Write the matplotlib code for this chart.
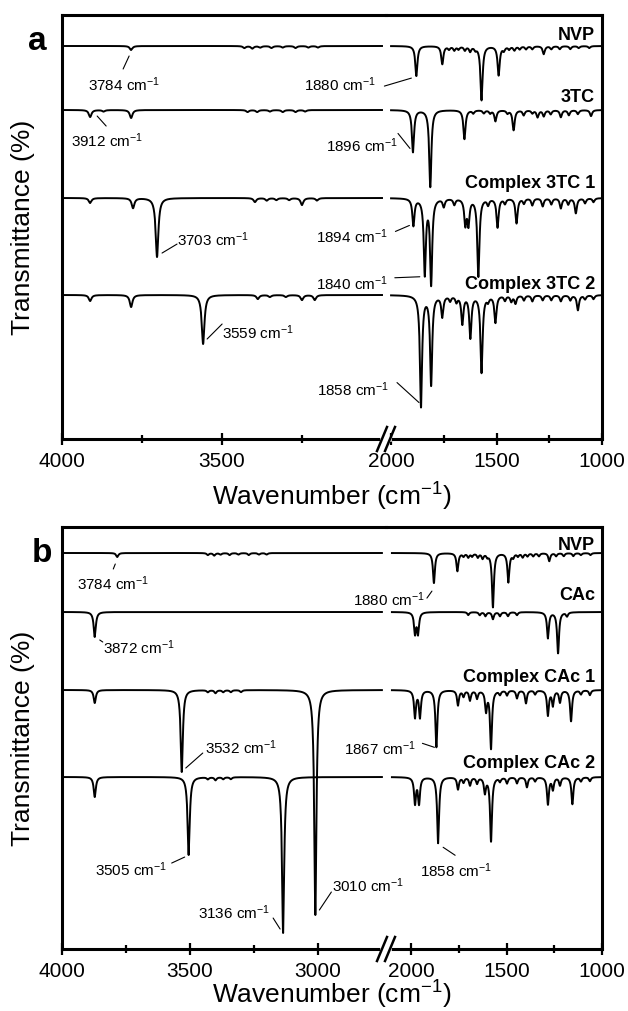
import numpy as np
import matplotlib
matplotlib.use('Agg')
import matplotlib.pyplot as plt
from matplotlib.lines import Line2D
from matplotlib.transforms import offset_copy

plt.rcParams['font.family'] = ['Liberation Sans', 'DejaVu Sans']
plt.rcParams['mathtext.fontset'] = 'custom'
plt.rcParams['mathtext.rm'] = 'Liberation Sans'
plt.rcParams['mathtext.it'] = 'Liberation Sans:italic'
plt.rcParams['mathtext.bf'] = 'Liberation Sans:bold'

# peak lists (wavenumber cm-1, depth)
nvp_peaks = [(3784, 4), (3430, 2), (3405, 2.5), (3380, 1.5), (3345, 2), (3310, 1.5),
             (3270, 2), (3230, 1.5), (3200, 1.5),
             (1880, 30), (1757, 18), (1725, 3), (1700, 4), (1680, 3), (1650, 4), (1625, 5),
             (1600, 3), (1571, 54), (1490, 29), (1465, 4), (1440, 3), (1415, 4), (1390, 3),
             (1360, 3), (1330, 3), (1276, 8), (1240, 3), (1200, 3), (1150, 3), (1110, 2), (1060, 2)]
tc3_peaks = [(3912, 7), (3870, 1.5), (3784, 8), (3420, 2), (3390, 2), (3350, 1.5), (3310, 2),
             (3270, 2), (3240, 1.5),
             (1896, 42), (1814, 77), (1652, 29), (1610, 3), (1560, 3), (1530, 3), (1505, 11),
             (1448, 3), (1419, 20), (1371, 5), (1330, 3), (1305, 7), (1276, 6), (1243, 4),
             (1195, 7), (1157, 5), (1114, 4), (1052, 6)]
ctc1_peaks = [(3912, 5), (3778, 10), (3703, 59), (3397, 4), (3360, 2.5), (3330, 2), (3290, 2),
              (3250, 7), (3203, 2.5),
              (1894, 27), (1840, 75), (1810, 85), (1750, 8), (1700, 6), (1648, 25), (1633, 25),
              (1586, 78), (1540, 6), (1495, 29), (1460, 5), (1405, 25), (1370, 5), (1330, 7),
              (1281, 8), (1240, 6), (1195, 10), (1160, 6), (1124, 15), (1080, 5), (1040, 4)]
ctc2_peaks = [(3912, 6), (3784, 12), (3559, 49), (3388, 4), (3350, 2), (3300, 2), (3250, 5),
              (3210, 5),
              (1858, 111), (1810, 89), (1757, 21), (1720, 5), (1690, 6), (1662, 28), (1624, 42),
              (1571, 77), (1540, 5), (1505, 27), (1460, 5), (1430, 6), (1410, 8), (1370, 5),
              (1330, 6), (1281, 5), (1240, 5), (1195, 6), (1150, 5), (1114, 15), (1080, 4), (1040, 4)]
cac_peaks = [(3872, 25),
             (1979, 21), (1963, 21), (1700, 3), (1640, 3), (1610, 4), (1571, 7), (1534, 4),
             (1492, 4), (1445, 3), (1283, 26), (1230, 41), (1183, 4)]
cc1_peaks = [(3872, 13), (3532, 82), (3430, 2), (3400, 3), (3370, 2), (3340, 2), (3300, 2),
             (3010, 225),
             (1979, 27), (1953, 27), (1867, 57), (1754, 15), (1725, 6), (1691, 10), (1654, 8),
             (1607, 20), (1581, 58), (1534, 4), (1497, 5), (1445, 8), (1398, 13), (1350, 4),
             (1283, 25), (1257, 15), (1220, 12), (1162, 31), (1110, 4), (1063, 5)]
cc2_peaks = [(3872, 20), (3505, 78), (3430, 2), (3400, 3), (3370, 2), (3340, 2), (3136, 156),
             (1979, 26), (1958, 26), (1858, 66), (1754, 12), (1725, 5), (1691, 8), (1654, 6),
             (1613, 15), (1581, 64), (1534, 4), (1497, 6), (1445, 6), (1393, 10), (1350, 4),
             (1283, 27), (1257, 12), (1220, 8), (1155, 27), (1110, 4), (1063, 4)]

names_a = ['NVP', '3TC', 'Complex 3TC 1', 'Complex 3TC 2']
names_b = ['NVP', 'CAc', 'Complex CAc 1', 'Complex CAc 2']
baselines_a = [393, 329, 241, 144]
baselines_b = [396, 337, 259, 172]

# (trace index, peak, ha, text dx, text dy, leader x0, y0, x1, y1) offsets in px from peak bottom, y down
notes_a = [(0, 3784, 'left', -43, 36, (-8, 19, -2, 6)),
           (1, 3912, 'left', -19, 25, (7, -1, 16, 9)),
           (0, 1880, 'right', -40, 10, (-32, 10, -5, 2)),
           (1, 1896, 'right', -15, -5, (-15, -19, -3, -4)),
           (2, 3703, 'left', 20, -16, (5, -4, 20, -13)),
           (2, 1894, 'right', -25, 12, (-18, 5, -4, -1)),
           (2, 1840, 'right', -37, 8, (-30, 1, -5, 0)),
           (3, 3559, 'left', 19, -10, (4, -5, 19, -20)),
           (3, 1858, 'right', -32, -17, (-24, -25, -2, -5))]
notes_b = [(0, 3784, 'left', -40, 28, (-4, 12, -2, 7)),
           (0, 1880, 'right', -9, 18, (-7, 15, -2, 8)),
           (1, 3872, 'left', 8, 12, (5, 3, 8, 5)),
           (2, 3532, 'left', 23, -23, (4, -4, 21, -19)),
           (2, 1867, 'right', -20, 3, (-14, -4, -2, 0)),
           (3, 3505, 'right', -21, 16, (-17, 8, -4, 2)),
           (3, 3136, 'right', -13, -19, (-10, -15, -3, -4)),
           (2, 3010, 'left', 17, -28, (16, -23, 4, -5)),
           (3, 1858, 'left', -18, 29, (5, 4, 17, 12))]

label_rise_a = [6.5, 8.5, 10.5, 6]
label_rise_b = [3, 11.5, 8, 9]

W, H = 628, 1011
fig = plt.figure(figsize=(W / 100, H / 100), dpi=100)


def spectrum(x, peaks, width):
    y = np.zeros_like(x)
    for wn, d in peaks:
        y -= d / (1 + ((x - wn) / width) ** 2)
    return y


def panel(top, bottom, height, traces, baselines, names, rises, notes,
          left_lim, right_lim, left_data, right_data, left_major, letter, letter_x, xlab_gap):
    axl = fig.add_axes([62 / W, 1 - bottom / H, (386 - 62) / W, (bottom - top) / H])
    axr = fig.add_axes([386 / W, 1 - bottom / H, (602 - 386) / W, (bottom - top) / H])
    widths = {}
    for ax, lim, rng, w in [(axl, left_lim, left_data, 5.0), (axr, right_lim, right_data, 6.0)]:
        ax.patch.set_visible(False)
        x = np.arange(rng[1], rng[0] + 0.01, 0.25)
        for peaks, base in zip(traces, baselines):
            ax.plot(x, base + spectrum(x, peaks, w), color='black', lw=1.4, solid_joinstyle='round')
        ax.set_xlim(*lim)
        ax.set_ylim(0, height)
        ax.set_yticks([])
        for s in ax.spines.values():
            s.set_linewidth(2.2)
        ax.tick_params(axis='x', which='major', direction='inout', length=9, width=1.6,
                       labelsize=15, pad=5)
        ax.tick_params(axis='x', which='minor', direction='inout', length=6, width=1.6)
        widths[ax] = w
    axl.spines['right'].set_visible(False)
    axr.spines['left'].set_visible(False)
    axl.set_xticks(left_major)
    axl.set_xticks([3750, 3250], minor=True)
    axr.set_xticks([2000, 1500, 1000])
    axr.set_xticks([1750, 1250], minor=True)

    for name, base, rise in zip(names, baselines, rises):
        axr.annotate(name, xy=(1, base), xycoords=('axes fraction', 'data'),
                     xytext=(-7, rise), textcoords='offset pixels',
                     ha='right', va='baseline', fontsize=13, fontweight='bold')

    for idx, wn, ha, tdx, tdy, lead in notes:
        ax = axl if wn > 2500 else axr
        ybot = baselines[idx] + spectrum(np.array([float(wn)]), traces[idx], widths[ax])[0]
        ax.annotate('%d cm$^{-1}$' % wn, xy=(wn, ybot), xytext=(tdx, -tdy - 5),
                    textcoords='offset pixels', ha=ha, va='baseline', fontsize=11,
                    annotation_clip=False)
        x0, y0, x1, y1 = lead
        ax.annotate('', xy=(wn, ybot), xycoords=offset_copy(ax.transData, fig=fig, x=x1, y=-y1, units='dots'),
                    xytext=(wn, ybot), textcoords=offset_copy(ax.transData, fig=fig, x=x0, y=-y0, units='dots'),
                    arrowprops=dict(arrowstyle='-', lw=0.8, color='black', shrinkA=0, shrinkB=0),
                    annotation_clip=False)

    # break marks on the bottom axis
    yb = 1 - bottom / H
    fig.add_artist(Line2D([383 / W, 389 / W], [yb, yb], color='white', lw=4,
                          transform=fig.transFigure))
    for cx in (382, 390):
        fig.add_artist(Line2D([(cx - 5) / W, (cx + 5) / W], [yb - 12 / H, yb + 12 / H],
                              color='black', lw=1.8, transform=fig.transFigure))

    fig.text(letter_x / W, 1 - (top + 35) / H, letter, fontsize=24, fontweight='bold',
             ha='center', va='baseline')
    fig.text(23 / W, 1 - (top + bottom) / 2 / H, 'Transmittance (%)', rotation=90,
             fontsize=19, ha='center', va='center')
    fig.text(332 / W, 1 - (bottom + xlab_gap) / H, 'Wavenumber (cm$^{-1}$)', fontsize=19,
             ha='center', va='baseline')


panel(15, 439, 424, [nvp_peaks, tc3_peaks, ctc1_peaks, ctc2_peaks], baselines_a, names_a,
      label_rise_a, notes_a, (4000, 2987.5), (2024, 1000), (4000, 3000), (2000, 1000),
      [4000, 3500], 'a', 37, 67)
panel(527, 949, 422, [nvp_peaks, cac_peaks, cc1_peaks, cc2_peaks], baselines_b, names_b,
      label_rise_b, notes_b, (4000, 2734), (2131, 1000), (4000, 2750), (2100, 1000),
      [4000, 3500, 3000], 'b', 42, 55)

fig.savefig('out.png', dpi=100)
